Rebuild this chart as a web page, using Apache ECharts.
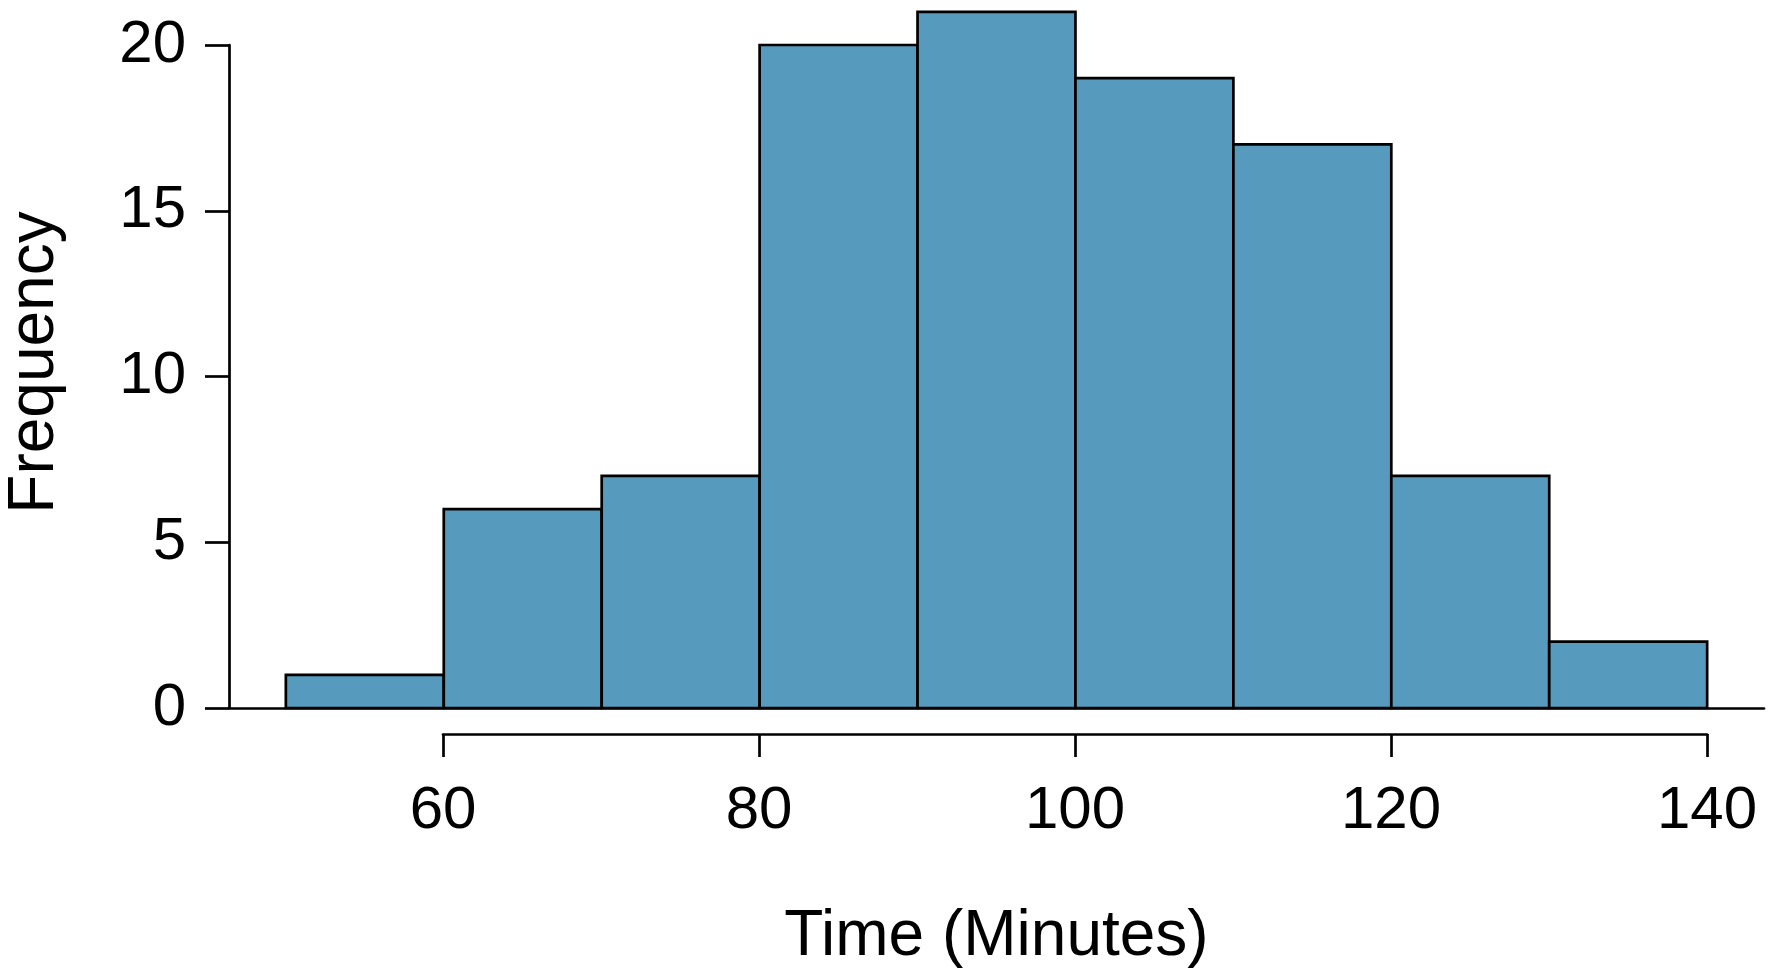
<!DOCTYPE html>
<html>
<head>
<meta charset="utf-8">
<title>Time histogram</title>
<script src="https://cdn.jsdelivr.net/npm/echarts@6/dist/echarts.min.js"></script>
<style>
  html, body { margin: 0; padding: 0; background: #fff; }
  #main { width: 1769px; height: 977px; }
</style>
</head>
<body>
<div id="main"></div>
<script>
// histogram bins (minutes) and counts
const binStart = [50, 60, 70, 80, 90, 100, 110, 120, 130];
const binEnd = [60, 70, 80, 90, 100, 110, 120, 130, 140];
const counts = [1, 6, 7, 20, 21, 19, 17, 7, 2];
const yTicks = [0, 5, 10, 15, 20];
const xTicks = [60, 80, 100, 120, 140];

const font = "'Liberation Sans', Arial, sans-serif";
const barColor = '#569BBD';
const lw = 2.7;

let data = [];
for (let i = 0; i < counts.length; i++) {
    data.push([binStart[i], binEnd[i], counts[i]]);
}

var myChart = echarts.init(document.getElementById('main'));

var option = {
    animation: false,
    grid: [
        // plot area
        { left: 229, right: 5, top: 45, bottom: 269, containLabel: false, outerBoundsMode: 'none' },
        // separate strip for the x tick axis (60..140 only)
        { left: 443, right: 62, top: 733, height: 1, containLabel: false, outerBoundsMode: 'none' }
    ],
    xAxis: [{
        gridIndex: 0,
        type: 'value',
        min: 46.4,
        max: 143.6,
        name: 'Time (Minutes)',
        nameLocation: 'middle',
        nameGap: 197,
        nameTextStyle: { fontFamily: font, fontSize: 64, color: '#000' },
        axisLine: { show: true, lineStyle: { color: '#000', width: lw } },
        axisTick: { show: false },
        axisLabel: { show: false },
        splitLine: { show: false }
    }, {
        gridIndex: 1,
        type: 'value',
        min: xTicks[0],
        max: xTicks[xTicks.length - 1],
        interval: 20,
        axisLine: { show: true, lineStyle: { color: '#000', width: lw } },
        axisTick: { show: true, length: 23, lineStyle: { color: '#000', width: lw } },
        axisLabel: { fontFamily: font, fontSize: 60, color: '#000', margin: 47 },
        splitLine: { show: false }
    }],
    yAxis: [{
        gridIndex: 0,
        type: 'value',
        min: yTicks[0],
        max: yTicks[yTicks.length - 1],
        interval: 5,
        name: 'Frequency',
        nameLocation: 'middle',
        nameGap: 162,
        nameTextStyle: { fontFamily: font, fontSize: 64, color: '#000', padding: [0, 0, 0, 28] },
        axisLine: { show: true, lineStyle: { color: '#000', width: lw } },
        axisTick: { show: true, length: 24, lineStyle: { color: '#000', width: lw } },
        axisLabel: { fontFamily: font, fontSize: 60, color: '#000', margin: 43 },
        splitLine: { show: false }
    }, {
        gridIndex: 1,
        type: 'value',
        show: false
    }],
    series: [{
        type: 'custom',
        xAxisIndex: 0,
        yAxisIndex: 0,
        clip: false,
        encode: { x: [0, 1], y: 2 },
        data: data,
        renderItem: function (params, api) {
            let p0 = api.coord([api.value(0), api.value(2)]);
            let p1 = api.coord([api.value(1), 0]);
            return {
                type: 'rect',
                shape: { x: p0[0], y: p0[1], width: p1[0] - p0[0], height: p1[1] - p0[1] },
                style: { fill: barColor, stroke: '#000', lineWidth: lw }
            };
        }
    }]
};

myChart.setOption(option);
</script>
</body>
</html>
